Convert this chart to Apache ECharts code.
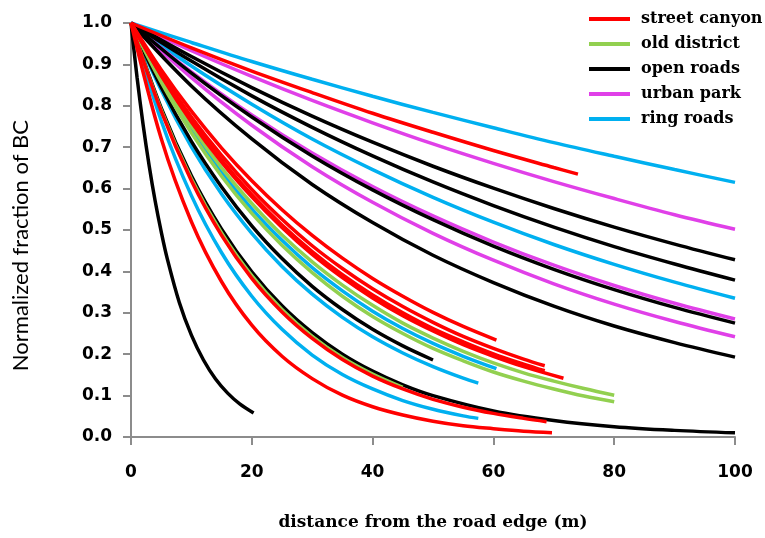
<!DOCTYPE html>
<html>
<head>
<meta charset="utf-8">
<script src="https://cdn.jsdelivr.net/npm/echarts@6/dist/echarts.min.js"></script>
<style>
html,body{margin:0;padding:0;background:#fff;}
#chart{width:765px;height:538px;}
</style>
</head>
<body>
<div id="chart"></div>
<script>
// Categories (legend) and their colours
const categories = ['street canyon', 'old district', 'open roads', 'urban park', 'ring roads'];
const lineColors = ['#FF0000', '#92D050', '#000000', '#E040E8', '#00B0F0'];
const xTicks = [0, 20, 40, 60, 80, 100];
const yTicks = [0, 0.1, 0.2, 0.3, 0.4, 0.5, 0.6, 0.7, 0.8, 0.9, 1.0];
const xTitle = 'distance from the road edge (m)';
const yTitle = 'Normalized fraction of BC';

// street canyon curves: [distance m, normalized BC]
const streetCanyon = [
  [[0,1],[10,0.940],[20,0.884],[30,0.832],[40,0.782],[50,0.736],[60,0.692],[70,0.651],[74,0.635]],
  [[0,1],[5,0.887],[10,0.787],[15,0.698],[20,0.619],[25,0.549],[30,0.487],[35,0.432],[40,0.383],[45,0.340],[50,0.301],[55,0.267],[60.5,0.234]],
  [[0,1],[5,0.879],[10,0.773],[15,0.680],[20,0.598],[25,0.526],[30,0.462],[35,0.407],[40,0.358],[45,0.315],[50,0.277],[55,0.243],[60,0.214],[65,0.188],[68.5,0.172]],
  [[0,1],[5,0.875],[10,0.765],[15,0.669],[20,0.585],[25,0.512],[30,0.448],[35,0.392],[40,0.343],[45,0.300],[50,0.262],[55,0.230],[60,0.201],[65,0.176],[68.5,0.160]],
  [[0,1],[5,0.873],[10,0.761],[15,0.664],[20,0.580],[25,0.506],[30,0.441],[35,0.385],[40,0.336],[45,0.293],[50,0.256],[55,0.223],[60,0.195],[65,0.170],[71.6,0.142]],
  [[0,1],[5,0.787],[10,0.619],[15,0.487],[20,0.383],[25,0.302],[30,0.238],[35,0.187],[40,0.147],[45,0.116],[50,0.091],[55,0.072],[60,0.057],[65,0.045],[68.8,0.037]],
  [[0,1],[5,0.721],[10,0.520],[15,0.375],[20,0.270],[25,0.195],[30,0.141],[35,0.101],[40,0.073],[45,0.053],[50,0.038],[55,0.027],[60,0.020],[65,0.014],[69.7,0.0105]]
];

// old district curves
const oldDistrict = [
  [[0,1],[5,0.867],[10,0.751],[15,0.650],[20,0.564],[25,0.488],[30,0.423],[35,0.367],[40,0.318],[45,0.275],[50,0.239],[55,0.207],[60,0.179],[65,0.155],[70,0.135],[75,0.117],[80,0.101]],
  [[0,1],[5,0.857],[10,0.735],[15,0.630],[20,0.540],[25,0.463],[30,0.397],[35,0.340],[40,0.291],[45,0.250],[50,0.214],[55,0.184],[60,0.157],[65,0.135],[70,0.116],[75,0.099],[80,0.085]],
  [[0,1],[5,0.790],[10,0.624],[15,0.493],[20,0.390],[25,0.308],[30,0.243],[35,0.192],[40,0.152],[45,0.120]]
];

// open roads curves
const openRoads = [
  [[0,1],[10,0.919],[20,0.844],[30,0.775],[40,0.712],[50,0.654],[60,0.601],[70,0.552],[80,0.507],[90,0.466],[100,0.428]],
  [[0,1],[10,0.908],[20,0.824],[30,0.748],[40,0.679],[50,0.616],[60,0.559],[70,0.507],[80,0.460],[90,0.418],[100,0.379]],
  [[0,1],[10,0.879],[20,0.773],[30,0.679],[40,0.597],[50,0.525],[60,0.461],[70,0.405],[80,0.356],[90,0.313],[100,0.275]],
  [[0,1],[10,0.848],[20,0.720],[30,0.610],[40,0.518],[50,0.439],[60,0.373],[70,0.316],[80,0.268],[90,0.228],[100,0.193]],
  [[0,1],[5,0.845],[10,0.714],[15,0.604],[20,0.510],[25,0.431],[30,0.364],[35,0.308],[40,0.260],[45,0.220],[50,0.186]],
  [[0,1],[5,0.795],[10,0.631],[15,0.502],[20,0.399],[25,0.317],[30,0.252],[35,0.200],[40,0.159],[45,0.126],[50,0.100],[60,0.063],[70,0.040],[80,0.025],[90,0.016],[100,0.010]],
  [[0,1],[1,0.869],[2,0.755],[3,0.656],[4,0.570],[5,0.496],[6,0.431],[8,0.325],[10,0.246],[12,0.186],[14,0.140],[16,0.106],[18,0.080],[20.3,0.058]]
];

// urban park curves
const urbanPark = [
  [[0,1],[10,0.933],[20,0.871],[30,0.813],[40,0.759],[50,0.708],[60,0.661],[70,0.617],[80,0.576],[90,0.537],[100,0.502]],
  [[0,1],[10,0.882],[20,0.778],[30,0.686],[40,0.605],[50,0.534],[60,0.471],[70,0.415],[80,0.366],[90,0.323],[100,0.285]],
  [[0,1],[10,0.868],[20,0.753],[30,0.653],[40,0.567],[50,0.492],[60,0.427],[70,0.370],[80,0.321],[90,0.279],[100,0.242]]
];

// ring roads curves
const ringRoads = [
  [[0,1],[10,0.953],[20,0.907],[30,0.864],[40,0.823],[50,0.784],[60,0.747],[70,0.711],[80,0.678],[90,0.646],[100,0.615]],
  [[0,1],[10,0.896],[20,0.804],[30,0.720],[40,0.646],[50,0.579],[60,0.519],[70,0.465],[80,0.417],[90,0.374],[100,0.335]],
  [[0,1],[5,0.862],[10,0.742],[15,0.640],[20,0.551],[25,0.475],[30,0.409],[35,0.353],[40,0.304],[45,0.262],[50,0.226],[55,0.195],[60.5,0.165]],
  [[0,1],[5,0.838],[10,0.701],[15,0.587],[20,0.492],[25,0.412],[30,0.345],[35,0.289],[40,0.242],[45,0.203],[50,0.170],[55,0.142],[57.5,0.130]],
  [[0,1],[5,0.764],[10,0.583],[15,0.445],[20,0.340],[25,0.260],[30,0.198],[35,0.151],[40,0.116],[45,0.088],[50,0.067],[55,0.051],[57.5,0.045]]
];

const groups = [streetCanyon, oldDistrict, openRoads, urbanPark, ringRoads];
// draw order (later on top)
const drawOrder = [4, 3, 2, 1, 0];

const series = [];
drawOrder.forEach(function (gi) {
  groups[gi].forEach(function (curve) {
    series.push({
      name: categories[gi],
      type: 'line',
      data: curve,
      smooth: 0.35,
      showSymbol: false,
      symbol: 'none',
      lineStyle: { color: lineColors[gi], width: 3.5 },
      itemStyle: { color: lineColors[gi] },
      animation: false,
      z: 2
    });
  });
});

const chart = echarts.init(document.getElementById('chart'), null, { renderer: 'canvas' });
chart.setOption({
  animation: false,
  backgroundColor: '#ffffff',
  grid: { left: 131, right: 30, top: 23, bottom: 101, containLabel: false, outerBoundsMode: 'none' },
  legend: {
    data: categories,
    orient: 'vertical',
    left: 584,
    top: 6,
    itemWidth: 41,
    itemHeight: 4,
    itemGap: 9,
    icon: 'rect',
    textStyle: { fontFamily: 'DejaVu Serif', fontWeight: 'bold', fontSize: 16, color: '#000', letterSpacing: -0.6, padding: [0, 0, 0, 6] }
  },
  graphic: [{
    type: 'text',
    left: 10,
    top: 246 - 126,
    rotation: Math.PI / 2,
    style: { text: yTitle, font: '22px Lato', fill: '#000' },
    silent: true
  }],
  xAxis: {
    type: 'value',
    min: 0, max: 100, interval: 20,
    name: xTitle,
    nameLocation: 'middle',
    nameGap: 77,
    nameTextStyle: { fontFamily: 'DejaVu Serif', fontWeight: 'bold', fontSize: 17, color: '#000' },
    axisLine: { lineStyle: { color: '#8C8C8C', width: 2 } },
    axisTick: { show: true, inside: false, length: 8, lineStyle: { color: '#8C8C8C', width: 2 } },
    axisLabel: { margin: 27, fontFamily: 'DejaVu Sans', fontWeight: 'bold', fontSize: 17, color: '#000',
      formatter: function (v) { return xTicks.indexOf(v) >= 0 ? String(v) : ''; } },
    splitLine: { show: false }
  },
  yAxis: {
    type: 'value',
    min: 0, max: 1, interval: 0.1,
    axisLine: { show: true, lineStyle: { color: '#8C8C8C', width: 2 } },
    axisTick: { show: true, inside: false, length: 8, lineStyle: { color: '#8C8C8C', width: 2 } },
    axisLabel: { margin: 19, fontFamily: 'DejaVu Sans', fontWeight: 'bold', fontSize: 17, color: '#000',
      formatter: function (v) { return v.toFixed(1); } },
    splitLine: { show: false }
  },
  series: series
});
</script>
</body>
</html>
